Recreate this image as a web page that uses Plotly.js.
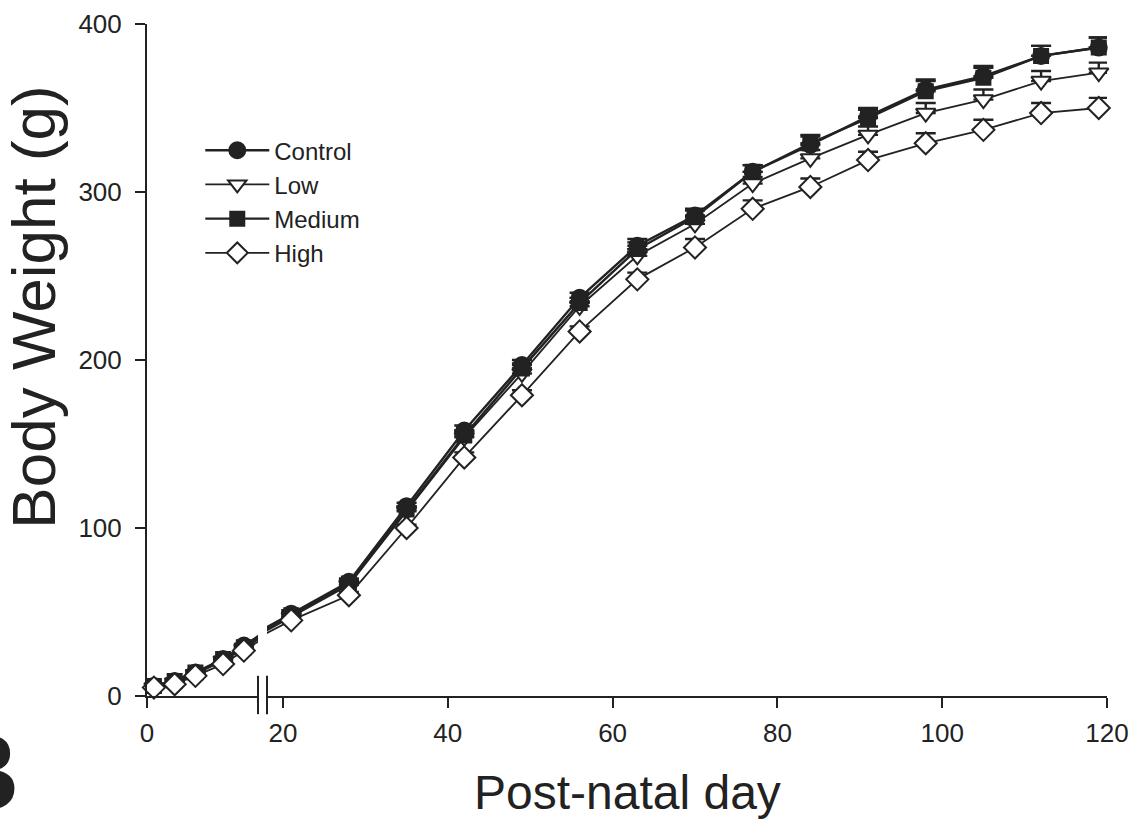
<!DOCTYPE html>
<html>
<head>
<meta charset="utf-8">
<script src="https://cdn.plot.ly/plotly-3.0.1.min.js"></script>
<style>html,body{margin:0;padding:0;background:#fff;}#chart{width:1131px;height:824px;}</style>
</head>
<body>
<div id="chart"></div>
<script>
// ---- data ----
var days = [1, 4, 7, 11, 14, 21, 28, 35, 42, 49, 56, 63, 70, 77, 84, 91, 98, 105, 112, 119];
var control = [6, 9, 14, 22, 30, 49, 68, 113, 158, 197, 237, 268, 286, 312, 328, 345, 361, 369, 381, 386];
var controlErr = [1, 1, 1, 1, 1, 2, 2, 2, 3, 3, 3, 4, 4, 4, 5, 5, 6, 6, 6, 6];
var low = [5, 8, 13, 21, 28, 47, 66, 110, 154, 192, 232, 262, 281, 305, 320, 334, 347, 355, 366, 371];
var lowErr = [1, 1, 1, 1, 1, 2, 2, 2, 3, 3, 3, 4, 4, 4, 5, 5, 6, 6, 6, 6];
var medium = [6, 9, 14, 22, 29, 48, 67, 111, 155, 195, 234, 266, 285, 312, 329, 344, 360, 368, 381, 386];
var mediumErr = [1, 1, 1, 1, 1, 2, 2, 2, 3, 3, 3, 4, 4, 4, 5, 5, 6, 6, 6, 6];
var high = [5, 7, 12, 19, 27, 45, 60, 100, 142, 179, 217, 248, 267, 290, 303, 319, 329, 337, 347, 350];
var highErr = [1, 1, 1, 1, 1, 2, 2, 2, 3, 3, 3, 4, 5, 5, 5, 5, 6, 6, 6, 6];
var seriesNames = ["Control", "Low", "Medium", "High"];
var leftTicks = [0];
var rightTicks = [20, 40, 60, 80, 100, 120];
var yTicks = [0, 100, 200, 300, 400];
var breakDay = 17;   // axis break between day 14 and day 21

// ---- styles ----
var INK = "#222222";
var FONT = "Liberation Sans, Arial, Helvetica, sans-serif";
var styles = [
  {symbol: "circle", size: 16, fill: INK, lw: 2.4},
  {symbol: "triangle-down", size: 17, fill: "#ffffff", lw: 1.8},
  {symbol: "square", size: 14, fill: INK, lw: 2.4},
  {symbol: "diamond", size: 17, fill: "#ffffff", lw: 1.8}
];
var allY = [control, low, medium, high];
var allE = [controlErr, lowErr, mediumErr, highErr];

function pick(arr, cond) {
  var out = [];
  for (var i = 0; i < days.length; i++) if (cond(days[i])) out.push(arr[i]);
  return out;
}
function zeros(n) { var z = []; for (var i = 0; i < n; i++) z.push(0); return z; }

var traces = [];
// connector line segments across the break (line only, clipped at the break)
allY.forEach(function (ys, k) {
  var lastL = -1, firstR = -1;
  for (var i = 0; i < days.length; i++) {
    if (days[i] < breakDay) lastL = i;
    else if (firstR < 0) firstR = i;
  }
  var cx = [days[lastL], days[firstR]];
  var cy = [ys[lastL], ys[firstR]];
  ["x", "x2"].forEach(function (ax) {
    traces.push({
      x: cx, y: cy, xaxis: ax, yaxis: "y", mode: "lines",
      line: {color: INK, width: styles[k].lw}, showlegend: false, hoverinfo: "skip"
    });
  });
});
// main series
allY.forEach(function (ys, k) {
  var st = styles[k];
  [["x", function (d) { return d < breakDay; }], ["x2", function (d) { return d >= breakDay; }]].forEach(function (p, j) {
    var yy = pick(ys, p[1]);
    traces.push({
      x: pick(days, p[1]), y: yy, xaxis: p[0], yaxis: "y",
      name: seriesNames[k], legendgroup: seriesNames[k], showlegend: j === 1,
      mode: "lines+markers", cliponaxis: false,
      line: {color: INK, width: st.lw},
      marker: {symbol: st.symbol, size: st.size, color: st.fill, line: {color: INK, width: 2}},
      error_y: {type: "data", symmetric: false, array: pick(allE[k], p[1]), arrayminus: zeros(yy.length),
                color: INK, thickness: 2.4, width: 10, visible: true}
    });
  });
});

var axisCommon = {
  showline: true, linecolor: INK, linewidth: 2, ticks: "outside", ticklen: 10, tickwidth: 2, tickcolor: INK,
  showgrid: false, zeroline: false, tickfont: {family: FONT, size: 26, color: INK}, fixedrange: true
};
var layout = {
  width: 1131, height: 824,
  margin: {l: 147, r: 24, t: 24, b: 128},
  paper_bgcolor: "#ffffff", plot_bgcolor: "rgba(0,0,0,0)",
  font: {family: FONT, color: INK},
  showlegend: true,
  legend: {x: 0.0555, y: 0.845, xanchor: "left", yanchor: "top", itemwidth: 64,
           font: {family: FONT, size: 24, color: INK}, bgcolor: "rgba(0,0,0,0)", tracegroupgap: 0, traceorder: "normal"},
  xaxis: Object.assign({}, axisCommon, {domain: [0, 0.1156], range: [0, 16.04], tickmode: "array", tickvals: leftTicks, anchor: "y", ticklabelstandoff: 3}),
  xaxis2: Object.assign({}, axisCommon, {domain: [0.125, 1], range: [18.06, 120], tickmode: "array", tickvals: rightTicks, anchor: "y", ticklabelstandoff: 3}),
  yaxis: Object.assign({}, axisCommon, {domain: [0, 1], range: [0, 400], tickmode: "array", tickvals: yTicks, anchor: "x", ticklabelstandoff: 8}),
  shapes: [
    {type: "line", xref: "x domain", yref: "y domain", x0: 1, x1: 1, y0: -0.027, y1: 0.03, line: {color: INK, width: 2}},
    {type: "line", xref: "x2 domain", yref: "y domain", x0: 0, x1: 0, y0: -0.027, y1: 0.03, line: {color: INK, width: 2}}
  ],
  annotations: [
    {text: "Post-natal day", xref: "paper", yref: "paper", x: 0.5, y: -0.143, xanchor: "center", yanchor: "middle",
     showarrow: false, font: {family: FONT, size: 48, color: INK}},
    {text: "Body Weight (g)", xref: "paper", yref: "paper", x: -0.118, y: 0.579, xanchor: "center", yanchor: "middle",
     textangle: -90, showarrow: false, font: {family: FONT, size: 62, color: INK}},
    {text: "<b>B</b>", xref: "paper", yref: "paper", x: -0.131, y: -0.113, xanchor: "right", yanchor: "middle",
     showarrow: false, font: {family: FONT, size: 110, color: INK}}
  ]
};
Plotly.newPlot("chart", traces, layout, {displayModeBar: false, staticPlot: true});
</script>
</body>
</html>
